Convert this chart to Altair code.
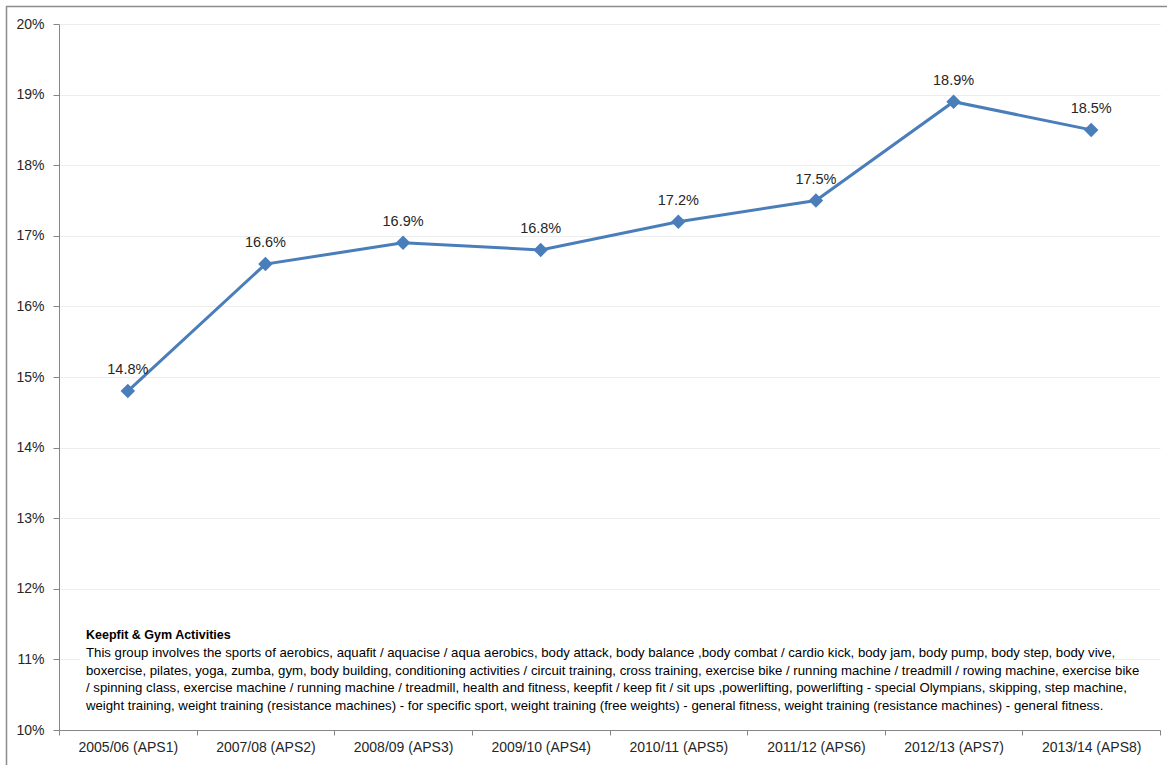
import altair as alt
import pandas as pd

# Survey periods and participation rates (%)
periods = [
    "2005/06 (APS1)", "2007/08 (APS2)", "2008/09 (APS3)", "2009/10 (APS4)",
    "2010/11 (APS5)", "2011/12 (APS6)", "2012/13 (APS7)", "2013/14 (APS8)",
]
rates = [14.8, 16.6, 16.9, 16.8, 17.2, 17.5, 18.9, 18.5]
y_ticks = [10, 11, 12, 13, 14, 15, 16, 17, 18, 19, 20]

note_title = "Keepfit & Gym Activities"
note_lines = [
    "This group involves the sports of aerobics, aquafit / aquacise / aqua aerobics, body attack, body balance ,body combat / cardio kick, body jam, body pump, body step, body vive,",
    "boxercise, pilates, yoga, zumba, gym, body building, conditioning activities / circuit training, cross training, exercise bike / running machine / treadmill / rowing machine, exercise bike",
    "/ spinning class, exercise machine / running machine / treadmill, health and fitness, keepfit / keep fit / sit ups ,powerlifting, powerlifting - special Olympians, skipping, step machine,",
    "weight training, weight training (resistance machines) - for specific sport, weight training (free weights) - general fitness, weight training (resistance machines) - general fitness.",
]

FONT = "Liberation Sans"
TEXT = "#262626"
BLUE = "#4A7EBB"

df = pd.DataFrame({"period": periods, "rate": rates})

x_enc = alt.X(
    "period:N",
    sort=periods,
    title=None,
    scale=alt.Scale(paddingInner=0, paddingOuter=0),
    axis=alt.Axis(
        labelAngle=0, tickBand="extent", tickSize=5, labelPadding=5,
        labelFontSize=14, labelFont=FONT, labelColor=TEXT,
        domainColor="#868686", tickColor="#868686", grid=False,
    ),
)
y_enc = alt.Y(
    "rate:Q",
    title=None,
    scale=alt.Scale(domain=[10, 20], nice=False, zero=False),
    axis=alt.Axis(
        values=y_ticks, labelExpr="datum.value + '%'", tickSize=6, labelPadding=9,
        labelFontSize=14, labelFont=FONT, labelColor=TEXT,
        domainColor="#868686", tickColor="#868686",
        grid=True, gridColor="#EDEDED", gridWidth=1,
    ),
)

base = alt.Chart(df).encode(x=x_enc, y=y_enc)

line = base.mark_line(color=BLUE, strokeWidth=3)
points = base.mark_point(shape="diamond", size=210, filled=True, color=BLUE, opacity=1)
labels = base.transform_calculate(
    label="format(datum.rate, '.1f') + '%'"
).mark_text(
    dy=-21, baseline="middle", align="center", fontSize=14.5, font=FONT, color=TEXT
).encode(text="label:N")

anchor = pd.DataFrame({"k": [0]})

# Outer chart frame (top and left edges)
frame_top = alt.Chart(anchor).mark_rule(color="#8C8C8C", strokeWidth=1.5).encode(
    x=alt.value(-53), x2=alt.value(1110), y=alt.value(-17.5)
)
frame_left = alt.Chart(anchor).mark_rule(color="#8C8C8C", strokeWidth=1.5).encode(
    x=alt.value(-52.5), y=alt.value(-18), y2=alt.value(745)
)

# White background of the description box
note_bg = alt.Chart(anchor).mark_rect(color="white").encode(
    x=alt.value(21), x2=alt.value(1033), y=alt.value(600), y2=alt.value(690)
)

note_layers = [
    alt.Chart(anchor).mark_text(
        align="left", baseline="middle", fontSize=12.5, fontWeight="bold", font=FONT, color="#000000"
    ).encode(x=alt.value(27), y=alt.value(611), text=alt.value(note_title))
]
for i, txt in enumerate(note_lines):
    note_layers.append(
        alt.Chart(anchor).mark_text(
            align="left", baseline="middle", fontSize=13.2, font=FONT, color="#000000"
        ).encode(x=alt.value(27), y=alt.value(629 + 17.6 * i), text=alt.value(txt))
    )

chart = alt.layer(
    frame_top, frame_left, line, note_bg, *note_layers, points, labels
).properties(
    width=1101,
    height=706,
    padding={"left": 59, "top": 24, "right": 7, "bottom": 35},
    autosize=alt.AutoSizeParams(type="none"),
    background="white",
).configure_view(stroke=None)

chart.save("out.html", embed_options={"renderer": "svg", "actions": False})
